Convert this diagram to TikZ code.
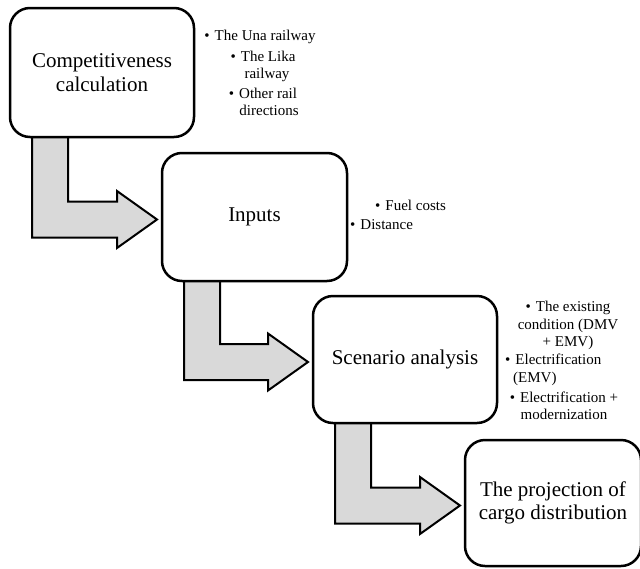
\documentclass[tikz,border=0pt]{standalone}
\usepackage{fontspec}
\setmainfont{Liberation Serif}
\usetikzlibrary{calc}
\pgfdeclarelayer{background}
\pgfsetlayers{background,main}
\newcommand\mybentarrow[2]{%
\begin{pgfonlayer}{background}
\draw[bent] let \p1=(#1.south west), \p2=(#2.west) in
 (\x1+22pt,\y1+5pt) -- (\x1+58pt,\y1+5pt) -- (\x1+58pt,\y2+15.5pt)
 -- (\x2-45pt,\y2+15.5pt) -- (\x2-45pt,\y2+26pt) -- (\x2-5pt,\y2-2.5pt)
 -- (\x2-45pt,\y2-31pt) -- (\x2-45pt,\y2-20.5pt) -- (\x1+22pt,\y2-20.5pt) -- cycle;
\end{pgfonlayer}}
\begin{document}
\begin{tikzpicture}[x=1pt,y=-1pt,
  box/.style={draw, line width=2.5pt, rounded corners=20pt, fill=white,
    inner sep=0pt, outer sep=0pt, align=center,
    font=\fontsize{21}{23.5}\selectfont},
  bent/.style={draw, line width=2pt, fill=gray!30, line join=miter},
  item/.style={inner sep=0pt, font=\fontsize{15}{17.5}\selectfont}
]
\useasboundingbox (0,0) rectangle (640,568);
% boxes
\node[box, minimum width=184pt, minimum height=129pt] (b1) at (102,72.5) {Competitiveness\\calculation};
\node[box, minimum width=185pt, minimum height=128pt] (b2) at (254.5,217) {Inputs};
\node[box, minimum width=184pt, minimum height=127pt] (b3) at (405,359.5) {Scenario analysis};
\node[box, minimum width=176pt, minimum height=126pt] (b4) at (553,503) {The projection of\\cargo distribution};
% bent arrows
\mybentarrow{b1}{b2}
\mybentarrow{b2}{b3}
\mybentarrow{b3}{b4}
% bullet lists
\node[item, align=center] (c1) at (260,37) {\textbullet\hspace{5pt}The Una railway};
\node[item, align=center] (c2) at (263,66.5) {\textbullet\hspace{5pt}The Lika\\\hspace*{8pt}railway};
\node[item, align=center] (c3) at (263,102) {\textbullet\hspace{5pt}Other rail\\\hspace*{12pt}directions};
\node[item, anchor=west] (i1) at (375,205) {\textbullet\hspace{5pt}Fuel costs};
\node[item, anchor=west] (i2) at (350,225) {\textbullet\hspace{5pt}Distance};
\node[item, align=center] (s1) at (568,325.5) {\textbullet\hspace{5pt}The existing\\condition (DMV\\+ EMV)};
\node[item, align=left, anchor=west] (s2) at (505,370) {\textbullet\hspace{5pt}Electrification\\\hspace*{8pt}(EMV)};
\node[item, align=center] (s3) at (564,406) {\textbullet\hspace{5pt}Electrification +\\modernization};
\end{tikzpicture}
\end{document}
